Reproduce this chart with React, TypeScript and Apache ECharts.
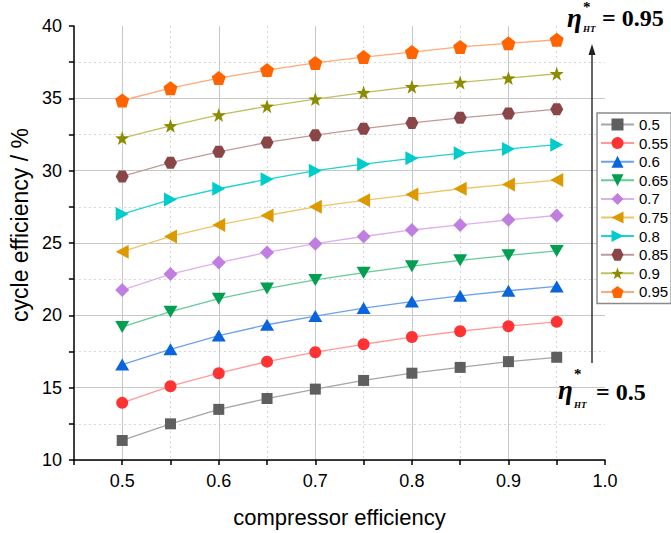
import React, { useEffect, useRef } from "react";
import * as echarts from "echarts";

// ---------- data ----------
const xValues = [0.5, 0.55, 0.6, 0.65, 0.7, 0.75, 0.8, 0.85, 0.9, 0.95];
const seriesNames = ["0.5", "0.55", "0.6", "0.65", "0.7", "0.75", "0.8", "0.85", "0.9", "0.95"];
const eta050 = [11.35, 12.5, 13.5, 14.25, 14.9, 15.5, 16.0, 16.4, 16.8, 17.1];
const eta055 = [13.95, 15.1, 16.0, 16.8, 17.45, 18.0, 18.5, 18.9, 19.25, 19.55];
const eta060 = [16.6, 17.65, 18.6, 19.35, 19.95, 20.5, 20.95, 21.35, 21.7, 22.0];
const eta065 = [19.2, 20.25, 21.15, 21.85, 22.45, 22.95, 23.4, 23.8, 24.15, 24.45];
const eta070 = [21.75, 22.85, 23.65, 24.35, 24.95, 25.45, 25.9, 26.25, 26.6, 26.9];
const eta075 = [24.4, 25.45, 26.25, 26.9, 27.5, 27.95, 28.35, 28.75, 29.05, 29.35];
const eta080 = [27.0, 28.0, 28.75, 29.4, 30.0, 30.45, 30.85, 31.2, 31.5, 31.8];
const eta085 = [29.6, 30.55, 31.3, 31.95, 32.45, 32.9, 33.3, 33.65, 33.95, 34.25];
const eta090 = [32.25, 33.1, 33.85, 34.45, 34.95, 35.4, 35.8, 36.1, 36.4, 36.7];
const eta095 = [34.85, 35.7, 36.4, 36.95, 37.45, 37.85, 38.2, 38.55, 38.8, 39.05];
const allSeries = [eta050, eta055, eta060, eta065, eta070, eta075, eta080, eta085, eta090, eta095];

// ---------- styles ----------
const PENTAGON = "path://M0,-1L0.951,-0.309L0.588,0.809L-0.588,0.809L-0.951,-0.309Z";
const HEXAGON = "path://M-1,0L-0.5,-0.866L0.5,-0.866L1,0L0.5,0.866L-0.5,0.866Z";
const STAR =
  "path://M0,-1L0.235,-0.324L0.951,-0.309L0.38,0.124L0.588,0.809L0,0.4L-0.588,0.809L-0.38,0.124L-0.951,-0.309L-0.235,-0.324Z";

const styles = [
  { symbol: "rect", size: 11, rotate: 0, marker: "#5f5f5f", line: "#a6a6a6" },
  { symbol: "circle", size: 12, rotate: 0, marker: "#ff3333", line: "#ff9a9a" },
  { symbol: "triangle", size: [14, 12], rotate: 0, marker: "#0a64dc", line: "#6aa2ee" },
  { symbol: "triangle", size: [14, 12], rotate: 180, marker: "#00a050", line: "#66cc99" },
  { symbol: "diamond", size: 14, rotate: 0, marker: "#c07ee0", line: "#ddb0ee" },
  { symbol: "triangle", size: [14, 13], rotate: 90, marker: "#dc9a00", line: "#eec466" },
  { symbol: "triangle", size: [14, 13], rotate: -90, marker: "#00cccc", line: "#22d2d2" },
  { symbol: HEXAGON, size: [13, 12], rotate: 0, marker: "#8a4646", line: "#c09a9a" },
  { symbol: STAR, size: 14, rotate: 0, marker: "#8c8c00", line: "#c0c060" },
  { symbol: PENTAGON, size: 14, rotate: 0, marker: "#ff6400", line: "#ffaa78" },
];

const SOLID = "#c8c8c8";
const DOT = "#d6d6d6";
const NONE = "rgba(0,0,0,0)";

export default function App() {
  const ref = useRef<HTMLDivElement>(null);

  useEffect(() => {
    if (!ref.current) return;
    const chart = echarts.init(ref.current, undefined, { renderer: "svg" });

    const series = allSeries.map((vals, i) => ({
      name: seriesNames[i],
      type: "line",
      xAxisIndex: 0,
      yAxisIndex: 0,
      data: xValues.map((x, j) => [x, vals[j]]),
      symbol: styles[i].symbol,
      symbolSize: styles[i].size,
      symbolRotate: styles[i].rotate,
      showAllSymbol: true,
      itemStyle: { color: styles[i].marker, opacity: 1 },
      lineStyle: { color: styles[i].line, width: 1.3 },
      emphasis: { disabled: true },
      z: 3,
    }));

    const labelFont = { fontFamily: "Liberation Sans", fontSize: 18, color: "#000" };

    const option: any = {
      animation: false,
      grid: { left: 62, right: 66, top: 26, bottom: 70, containLabel: false },
      xAxis: [
        {
          type: "value",
          min: 0.45,
          max: 1.0,
          interval: 0.05,
          name: "compressor efficiency",
          nameLocation: "middle",
          nameGap: 46,
          nameTextStyle: { fontFamily: "Liberation Sans", fontSize: 22, color: "#000" },
          axisLine: { show: true, onZero: false, lineStyle: { color: "#000", width: 1.5 } },
          axisTick: { show: true, inside: false, length: 5, lineStyle: { color: "#000", width: 1.5 } },
          axisLabel: {
            ...labelFont,
            margin: 12,
            formatter: (v: number) => (Math.round(v * 100) % 10 === 0 ? v.toFixed(1) : ""),
          },
          splitLine: {
            show: true,
            showMaxLine: false,
            lineStyle: { color: [NONE, SOLID], width: 1, type: "solid" },
          },
        },
        {
          type: "value",
          min: 0.45,
          max: 1.0,
          interval: 0.05,
          axisLine: { show: false },
          axisTick: { show: false },
          axisLabel: { show: false },
          splitLine: {
            show: true,
            showMaxLine: false,
            lineStyle: { color: [DOT, NONE], width: 1, type: [2, 3] },
          },
        },
      ],
      yAxis: [
        {
          type: "value",
          min: 10,
          max: 40,
          interval: 2.5,
          name: "cycle efficiency / %",
          nameLocation: "middle",
          nameGap: 37,
          nameTextStyle: {
            fontFamily: "Liberation Sans",
            fontSize: 23,
            color: "#000",
            padding: [0, 0, 0, 36],
          },
          axisLine: { show: true, onZero: false, lineStyle: { color: "#000", width: 1.5 } },
          axisTick: { show: true, inside: false, length: 5, lineStyle: { color: "#000", width: 1.5 } },
          axisLabel: {
            ...labelFont,
            margin: 12,
            formatter: (v: number) => (Math.round(v * 10) % 50 === 0 ? String(Math.round(v)) : ""),
          },
          splitLine: {
            show: true,
            showMaxLine: false,
            lineStyle: { color: [SOLID, NONE], width: 1, type: "solid" },
          },
        },
        {
          type: "value",
          min: 10,
          max: 40,
          interval: 2.5,
          axisLine: { show: false },
          axisTick: { show: false },
          axisLabel: { show: false },
          splitLine: {
            show: true,
            showMaxLine: false,
            lineStyle: { color: [NONE, DOT], width: 1, type: [2, 3] },
          },
        },
      ],
      legend: {
        orient: "vertical",
        left: 597,
        top: 113,
        padding: [4, 3, 4, 3],
        itemWidth: 33,
        itemHeight: 15,
        itemGap: 3.6,
        backgroundColor: "#fff",
        borderColor: "#8a8a8a",
        borderWidth: 1.5,
        borderRadius: 0,
        textStyle: { fontFamily: "Liberation Sans", fontSize: 15, color: "#000" },
        data: seriesNames,
        selectedMode: false,
      },
      graphic: [
        // arrow
        {
          type: "line",
          shape: { x1: 592, y1: 363, x2: 592, y2: 52 },
          style: { stroke: "#333", lineWidth: 1.5 },
          z: 10,
        },
        {
          type: "polygon",
          shape: { points: [[592, 44], [588.5, 55], [595.5, 55]] },
          style: { fill: "#222" },
          z: 10,
        },
        // top annotation
        {
          type: "text",
          x: 567,
          y: 18,
          style: {
            text: "η",
            font: "italic bold 27px 'Liberation Serif'",
            lineHeight: 10,
            fill: "#000",
            verticalAlign: "middle",
          },
          z: 10,
        },
        {
          type: "text",
          x: 583,
          y: 2,
          style: {
            text: "*",
            font: "bold 15px 'Liberation Serif'",
            lineHeight: 10,
            fill: "#000",
            verticalAlign: "top",
          },
          z: 10,
        },
        {
          type: "text",
          x: 583,
          y: 29,
          style: {
            text: "HT",
            font: "italic bold 9px 'Liberation Serif'",
            lineHeight: 9,
            fill: "#000",
            verticalAlign: "middle",
          },
          z: 10,
        },
        {
          type: "text",
          x: 602,
          y: 18,
          style: { text: "= 0.95", font: "bold 24px 'Liberation Serif'", fill: "#000", verticalAlign: "middle" },
          z: 10,
        },
        // bottom annotation
        {
          type: "text",
          x: 558,
          y: 390,
          style: {
            text: "η",
            font: "italic bold 27px 'Liberation Serif'",
            lineHeight: 10,
            fill: "#000",
            verticalAlign: "middle",
          },
          z: 10,
        },
        {
          type: "text",
          x: 574,
          y: 369,
          style: {
            text: "*",
            font: "bold 15px 'Liberation Serif'",
            lineHeight: 10,
            fill: "#000",
            verticalAlign: "top",
          },
          z: 10,
        },
        {
          type: "text",
          x: 574,
          y: 405,
          style: {
            text: "HT",
            font: "italic bold 9px 'Liberation Serif'",
            lineHeight: 9,
            fill: "#000",
            verticalAlign: "middle",
          },
          z: 10,
        },
        {
          type: "text",
          x: 596,
          y: 392,
          style: { text: "= 0.5", font: "bold 24px 'Liberation Serif'", fill: "#000", verticalAlign: "middle" },
          z: 10,
        },
      ],
      series,
    };

    chart.setOption(option);
    return () => chart.dispose();
  }, []);

  return (
    <div
      ref={ref}
      style={{ position: "fixed", left: 0, top: 0, width: 671, height: 533, background: "#fff" }}
    />
  );
}
